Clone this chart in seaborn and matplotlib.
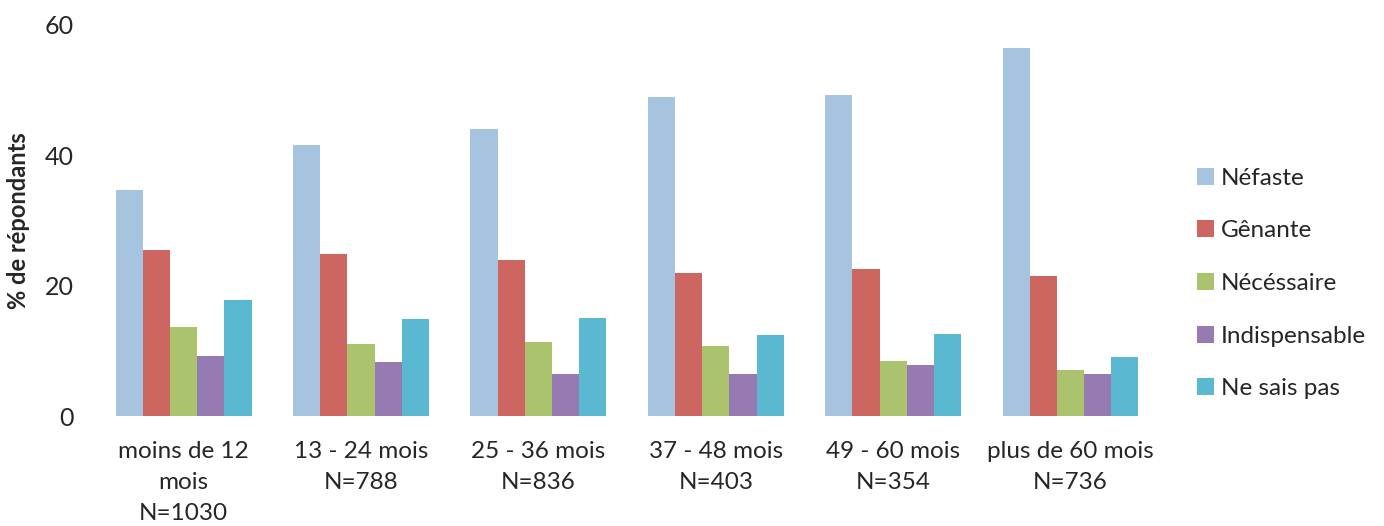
import matplotlib
matplotlib.use("Agg")
import matplotlib.pyplot as plt
import seaborn as sns
import pandas as pd

categories = ["moins de 12\nmois\nN=1030", "13 - 24 mois\nN=788", "25 - 36 mois\nN=836",
              "37 - 48 mois\nN=403", "49 - 60 mois\nN=354", "plus de 60 mois\nN=736"]
series = ["Néfaste", "Gênante", "Nécéssaire", "Indispensable", "Ne sais pas"]
nefaste = [34.6, 41.5, 44.0, 48.9, 49.2, 56.4]
genante = [25.4, 24.8, 23.9, 21.9, 22.5, 21.5]
necessaire = [13.6, 11.1, 11.3, 10.7, 8.5, 7.1]
indispensable = [9.2, 8.3, 6.4, 6.4, 7.9, 6.5]
ne_sais_pas = [17.8, 14.8, 15.0, 12.4, 12.6, 9.0]
colors = ["#A6C3DF", "#CD6660", "#AAC36C", "#957BB1", "#5AB9D1"]

values = [nefaste, genante, necessaire, indispensable, ne_sais_pas]
rows = []
for s, vals in zip(series, values):
    for c, v in zip(categories, vals):
        rows.append({"cat": c, "serie": s, "val": v})
df = pd.DataFrame(rows)

sns.set_style("white")
plt.rcParams["font.family"] = ["Lato", "DejaVu Sans"]

fig = plt.figure(figsize=(13.84, 5.26), dpi=100)
ax = fig.add_axes([0.0686, 0.209, 0.769, 0.7443])
sns.barplot(data=df, x="cat", y="val", hue="serie", hue_order=series, order=categories,
            palette=colors, width=0.766, gap=0, ax=ax, edgecolor="none", saturation=1)

ax.set_ylim(0, 60)
ax.set_yticks([0, 20, 40, 60])
ax.set_xlim(-0.5, 5.5)
for sp in ax.spines.values():
    sp.set_visible(False)
ax.tick_params(axis="y", labelsize=18, length=0, pad=15)
ax.tick_params(axis="x", labelsize=17.5, length=0, pad=18)
for lab in ax.get_xticklabels():
    lab.set_linespacing(1.6)
ax.set_xlabel("")
ax.set_ylabel("% de répondants", fontsize=17, fontweight="bold")
ax.yaxis.set_label_coords(-0.061, 0.5)

ax.legend(loc="center left", bbox_to_anchor=(0.849, 0.461), bbox_transform=fig.transFigure,
          frameon=False, fontsize=17.5, handlelength=0.7, handleheight=0.7,
          handletextpad=0.3, labelspacing=1.3)

fig.savefig("out.png", dpi=100)
